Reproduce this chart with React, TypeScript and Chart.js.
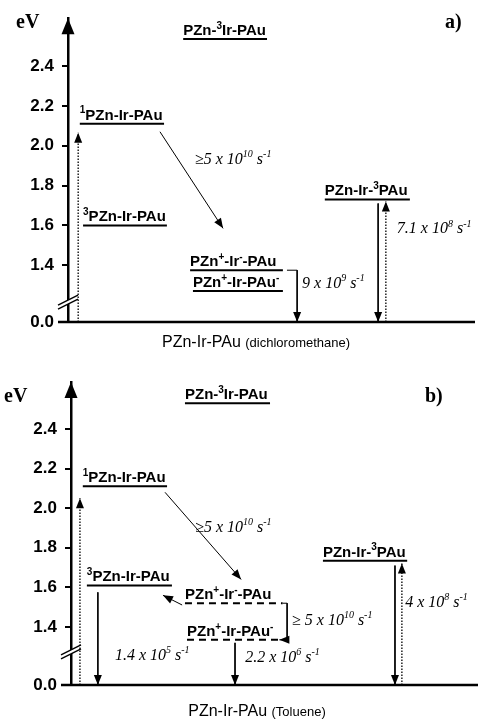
import React, { useEffect, useRef } from 'react';
import { Chart, registerables } from 'chart.js';
Chart.register(...registerables);

// ---------- shared axis ----------
const TICK_EV = [0, 1.4, 1.6, 1.8, 2.0, 2.2, 2.4];
const TICK_LABELS = ['0.0', '1.4', '1.6', '1.8', '2.0', '2.2', '2.4'];
const X_TITLE_MAIN = 'PZn-Ir-PAu';

// ---------- panel a (dichloromethane) ----------
const A_SOLVENT = '(dichloromethane)';
const A_LETTER = 'a)';
const A_LEVEL_LABELS = ['PZn-^{3}Ir-PAu', '^{1}PZn-Ir-PAu', '^{3}PZn-Ir-PAu', 'PZn^{+}-Ir^{-}-PAu', 'PZn^{+}-Ir-PAu^{-}', 'PZn-Ir-^{3}PAu'];
const A_LEVEL_EV = [2.535, 2.11, 1.6, 1.375, 1.27, 1.73];
const A_LEVEL_X0 = [28.3, 2.9, 3.7, 30.0, 30.7, 63.1];
const A_LEVEL_X1 = [48.9, 23.6, 24.3, 52.8, 52.8, 84.0];
const A_LEVEL_DASHED = [false, false, false, false, false, false];
const A_ARROW_X = [[2.5, 2.5], [22.6, 38.1], [53.8, 56.3, 56.3], [76.2, 76.2], [78.1, 78.1]];
const A_ARROW_EV = [[0, 2.065], [2.07, 1.585], [1.375, 1.375, 0], [1.71, 0], [0, 1.72]];
const A_ARROW_DOTTED = [true, false, false, false, true];
const A_RATE_TEXT = ['≥5 x 10^{10} s^{-1}', '9 x 10^{9} s^{-1}', '7.1 x 10^{8} s^{-1}'];
const A_RATE_X = [31.2, 57.5, 80.8];
const A_RATE_Y = [1.935, 1.31, 1.585];

// ---------- panel b (toluene) ----------
const B_SOLVENT = '(Toluene)';
const B_LETTER = 'b)';
const B_LEVEL_LABELS = ['PZn-^{3}Ir-PAu', '^{1}PZn-Ir-PAu', '^{3}PZn-Ir-PAu', 'PZn^{+}-Ir^{-}-PAu', 'PZn^{+}-Ir-PAu^{-}', 'PZn-Ir-^{3}PAu'];
const B_LEVEL_EV = [2.53, 2.11, 1.61, 1.52, 1.335, 1.735];
const B_LEVEL_X0 = [28.0, 2.9, 3.9, 28.0, 28.5, 61.9];
const B_LEVEL_X1 = [48.9, 23.6, 24.8, 52.0, 51.4, 82.6];
const B_LEVEL_DASHED = [false, false, false, true, true, false];
const B_ARROW_X = [[2.2, 2.2], [23.1, 41.8], [27.3, 22.6], [52.0, 53.1, 53.1, 51.2], [6.6, 6.6], [40.3, 40.3], [79.6, 79.6], [81.3, 81.3]];
const B_ARROW_EV = [[0, 2.05], [2.08, 1.64], [1.511, 1.56], [1.52, 1.52, 1.335, 1.335], [1.575, 0], [1.32, 0], [1.71, 0], [0, 1.72]];
const B_ARROW_DOTTED = [true, false, false, false, false, false, false, true];
const B_RATE_TEXT = ['≥5 x 10^{10} s^{-1}', '≥ 5 x 10^{10} s^{-1}', '1.4 x 10^{5} s^{-1}', '2.2 x 10^{6} s^{-1}', '4 x 10^{8} s^{-1}'];
const B_RATE_X = [30.5, 54.3, 10.8, 42.8, 82.1];
const B_RATE_Y = [1.905, 1.435, 1.259, 1.25, 1.526];

const SANS = '"Liberation Sans", Arial, sans-serif';
const SERIF = '"Liberation Serif", "Times New Roman", serif';

const PANEL_A = {
  ground: 1.115, top: 2.64, breakAt: 1.215,
  axisWidth: 68, padding: { left: 0, top: 17, right: 5, bottom: 38 },
  levelLabels: A_LEVEL_LABELS, levelEv: A_LEVEL_EV, levelX0: A_LEVEL_X0, levelX1: A_LEVEL_X1, levelDashed: A_LEVEL_DASHED,
  arrowX: A_ARROW_X, arrowEv: A_ARROW_EV, arrowDotted: A_ARROW_DOTTED,
  rateText: A_RATE_TEXT, rateX: A_RATE_X, rateY: A_RATE_Y,
  solvent: A_SOLVENT, letter: A_LETTER,
  titleX: 46.2, titleDy: 25, evPos: [16, 28], letterPos: [445, 28],
};
const PANEL_B = {
  ground: 1.107, top: 2.637, breakAt: 1.274,
  axisWidth: 71, padding: { left: 0, top: 22, right: 2, bottom: 34 },
  levelLabels: B_LEVEL_LABELS, levelEv: B_LEVEL_EV, levelX0: B_LEVEL_X0, levelX1: B_LEVEL_X1, levelDashed: B_LEVEL_DASHED,
  arrowX: B_ARROW_X, arrowEv: B_ARROW_EV, arrowDotted: B_ARROW_DOTTED,
  rateText: B_RATE_TEXT, rateX: B_RATE_X, rateY: B_RATE_Y,
  solvent: B_SOLVENT, letter: B_LETTER,
  titleX: 45.7, titleDy: 31, evPos: [4, 42], letterPos: [425, 42],
};

function drawRich(ctx: CanvasRenderingContext2D, str: string, x: number, y: number, size: number, family: string, weight: string, style: string, align: string) {
  const parts: { t: string; sup: boolean }[] = [];
  const re = /\^\{([^}]*)\}/g;
  let last = 0;
  let m: RegExpExecArray | null;
  while ((m = re.exec(str))) {
    if (m.index > last) parts.push({ t: str.slice(last, m.index), sup: false });
    parts.push({ t: m[1], sup: true });
    last = re.lastIndex;
  }
  if (last < str.length) parts.push({ t: str.slice(last), sup: false });
  const fontFor = (sup: boolean) => `${style} ${weight} ${sup ? Math.round(size * 0.65) : size}px ${family}`;
  let total = 0;
  for (const p of parts) { ctx.font = fontFor(p.sup); total += ctx.measureText(p.t).width; }
  let cx = align === 'center' ? x - total / 2 : x;
  ctx.textAlign = 'left';
  ctx.textBaseline = 'alphabetic';
  ctx.fillStyle = '#000';
  for (const p of parts) {
    ctx.font = fontFor(p.sup);
    ctx.fillText(p.t, cx, p.sup ? y - size * 0.42 : y);
    cx += ctx.measureText(p.t).width;
  }
}

function makePlugin(p: any) {
  return {
    id: 'diagram',
    afterDraw(chart: any) {
      const { ctx, chartArea: ca } = chart;
      const xs = chart.scales.x;
      const ys = chart.scales.y;
      const gy = ys.getPixelForValue(p.ground);
      ctx.save();
      ctx.strokeStyle = '#000';
      ctx.fillStyle = '#000';
      // ground baseline
      ctx.lineWidth = 2.5;
      ctx.beginPath();
      ctx.moveTo(ca.left - 10, gy);
      ctx.lineTo(ca.right, gy);
      ctx.stroke();
      // y-axis arrow head
      ctx.beginPath();
      ctx.moveTo(ca.left, ca.top);
      ctx.lineTo(ca.left - 6.5, ca.top + 16);
      ctx.lineTo(ca.left + 6.5, ca.top + 16);
      ctx.closePath();
      ctx.fill();
      // axis break
      const by = ys.getPixelForValue(p.breakAt);
      const L = ca.left;
      ctx.fillStyle = '#fff';
      ctx.beginPath();
      ctx.moveTo(L - 3, by - 2 + 1.5);
      ctx.lineTo(L + 3, by - 2 - 1.5);
      ctx.lineTo(L + 3, by + 2 - 1.5);
      ctx.lineTo(L - 3, by + 2 + 1.5);
      ctx.closePath();
      ctx.fill();
      ctx.lineWidth = 1.4;
      for (const c of [-2, 2]) {
        ctx.beginPath();
        ctx.moveTo(L - 10, by + c + 5);
        ctx.lineTo(L + 10, by + c - 5);
        ctx.stroke();
      }
      ctx.fillStyle = '#000';
      // arrow heads
      chart.data.datasets.forEach((ds: any, i: number) => {
        if (!ds.isArrow) return;
        const pts = chart.getDatasetMeta(i).data;
        const a = pts[pts.length - 2];
        const b = pts[pts.length - 1];
        const ang = Math.atan2(b.y - a.y, b.x - a.x);
        const len = 10, hw = 4;
        ctx.beginPath();
        ctx.moveTo(b.x, b.y);
        ctx.lineTo(b.x - len * Math.cos(ang) + hw * Math.sin(ang), b.y - len * Math.sin(ang) - hw * Math.cos(ang));
        ctx.lineTo(b.x - len * Math.cos(ang) - hw * Math.sin(ang), b.y - len * Math.sin(ang) + hw * Math.cos(ang));
        ctx.closePath();
        ctx.fill();
      });
      // level labels
      p.levelLabels.forEach((lab: string, i: number) => {
        const px = xs.getPixelForValue(p.levelX0[i]);
        const py = ys.getPixelForValue(p.levelEv[i]) - 4;
        drawRich(ctx, lab, px, py, 15, SANS, 'bold', 'normal', 'left');
      });
      // rate labels
      p.rateText.forEach((t: string, i: number) => {
        const px = xs.getPixelForValue(p.rateX[i]);
        const py = ys.getPixelForValue(p.rateY[i]) + 5;
        drawRich(ctx, t, px, py, 16, SERIF, 'normal', 'italic', 'left');
      });
      // x title
      ctx.font = `16px ${SANS}`;
      const w1 = ctx.measureText(X_TITLE_MAIN + ' ').width;
      ctx.font = `13px ${SANS}`;
      const w2 = ctx.measureText(p.solvent).width;
      const cx = xs.getPixelForValue(p.titleX);
      const tx = cx - (w1 + w2) / 2;
      const ty = gy + p.titleDy;
      ctx.textAlign = 'left';
      ctx.textBaseline = 'alphabetic';
      ctx.font = `16px ${SANS}`;
      ctx.fillText(X_TITLE_MAIN + ' ', tx, ty);
      ctx.font = `13px ${SANS}`;
      ctx.fillText(p.solvent, tx + w1, ty);
      // eV and panel letter
      ctx.font = `bold 20px ${SERIF}`;
      ctx.fillText('eV', p.evPos[0], p.evPos[1]);
      ctx.fillText(p.letter, p.letterPos[0], p.letterPos[1]);
      ctx.restore();
    },
  };
}

function buildConfig(p: any) {
  const disp = (v: number) => (v === 0 ? p.ground : v);
  const datasets: any[] = [];
  p.levelEv.forEach((ev: number, i: number) => {
    datasets.push({
      data: [{ x: p.levelX0[i], y: ev }, { x: p.levelX1[i], y: ev }],
      borderColor: '#000', borderWidth: 2, borderDash: p.levelDashed[i] ? [7, 5] : [],
      showLine: true, pointRadius: 0, pointHoverRadius: 0, clip: false, borderCapStyle: 'butt',
    });
  });
  p.arrowX.forEach((xsArr: number[], i: number) => {
    datasets.push({
      data: xsArr.map((x, j) => ({ x, y: disp(p.arrowEv[i][j]) })),
      borderColor: '#000', borderWidth: p.arrowDotted[i] ? 1.3 : 1,
      borderDash: p.arrowDotted[i] ? [1.5, 1.5] : [],
      showLine: true, pointRadius: 0, pointHoverRadius: 0, clip: false, tension: 0, isArrow: true,
    });
  });
  return {
    type: 'scatter',
    data: { datasets },
    options: {
      responsive: false,
      animation: false,
      events: [],
      layout: { padding: p.padding },
      plugins: { legend: { display: false }, tooltip: { enabled: false }, title: { display: false } },
      scales: {
        x: { type: 'linear', min: 0, max: 100, display: false },
        y: {
          type: 'linear', min: p.ground, max: p.top,
          afterBuildTicks: (axis: any) => { axis.ticks = TICK_EV.map((v) => ({ value: disp(v) })); },
          afterFit: (axis: any) => { axis.width = p.axisWidth; },
          ticks: {
            autoSkip: false, padding: 8, color: '#000',
            font: { family: SANS, size: 17, weight: 'bold' },
            callback: (_v: any, idx: number) => TICK_LABELS[idx],
          },
          grid: { drawOnChartArea: false, drawTicks: true, tickLength: 6, color: '#000', lineWidth: 2 },
          border: { display: true, color: '#000', width: 2.5 },
        },
      },
    },
    plugins: [makePlugin(p)],
  };
}

function Panel({ cfg, height }: { cfg: any; height: number }) {
  const ref = useRef<HTMLCanvasElement | null>(null);
  useEffect(() => {
    const chart = new Chart(ref.current as HTMLCanvasElement, buildConfig(cfg) as any);
    return () => chart.destroy();
  }, [cfg]);
  return <canvas ref={ref} width={480} height={height} style={{ display: 'block', width: 480, height }} />;
}

export default function App() {
  return (
    <div style={{ position: 'absolute', left: 0, top: 0, width: 480, height: 719, background: '#fff' }}>
      <Panel cfg={PANEL_A} height={360} />
      <Panel cfg={PANEL_B} height={359} />
    </div>
  );
}
